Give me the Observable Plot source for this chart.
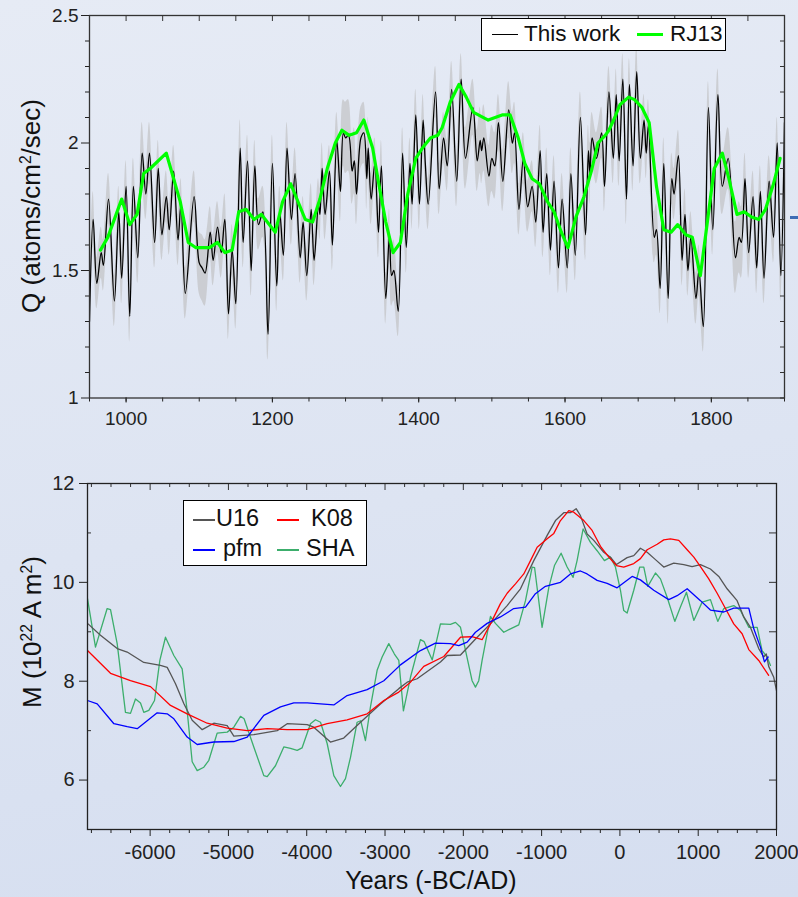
<!DOCTYPE html>
<html><head><meta charset="utf-8">
<script src="https://cdn.jsdelivr.net/npm/d3@7"></script>
<script src="https://cdn.jsdelivr.net/npm/@observablehq/plot@0.6"></script>
<style>
html,body{margin:0;padding:0;}
body{width:798px;height:897px;overflow:hidden;position:relative;
 background:linear-gradient(170deg,#e6ebf5 0%,#dde4f2 55%,#d5def0 100%);
 font-family:"Liberation Sans",Arial,sans-serif;color:#111;}
#top,#bot{position:absolute;left:0;}
#top{top:0}
#bot{top:450px}
.rot{position:absolute;transform:translate(-50%,-50%) rotate(-90deg);white-space:nowrap;font-size:26px;line-height:30px;}
.xt{position:absolute;transform:translate(-50%,-50%);white-space:nowrap;font-size:25px;line-height:30px;}
sup{font-size:0.6em;vertical-align:baseline;position:relative;top:-0.6em;}
.box{position:absolute;background:#fff;border:1px solid #000;box-sizing:border-box;}
.smp{position:absolute;}
.lt{position:absolute;white-space:nowrap;line-height:26px;}
</style></head><body>
<div id="top"></div>
<div id="bot"></div>
<script>
// ---------- Top panel: production rate Q ----------
const qYears = [
 950,955,960,966,969,976,984,990,994,1000,
 1005,1010,1016,1022,1027,1032,1039,1044,1049,1055,
 1059,1065,1071,1075,1081,1093,1100,1104,1108,1115,
 1119,1125,1130,1135,1140,1145,1150,1156,1160,1166,
 1171,1176,1181,1187,1194,1200,1206,1210,1215,1220,
 1226,1231,1238,1242,1247,1253,1257,1263,1265,1268,
 1272,1278,1282,1288,1293,1297,1300,1304,1309,1312,
 1315,1321,1325,1329,1331,1335,1340,1345,1349,1355,
 1360,1363,1366,1372,1378,1383,1388,1391,1396,1401,
 1406,1409,1413,1423,1428,1434,1439,1445,1452,1458,
 1464,1474,1480,1484,1486,1489,1496,1500,1504,1509,
 1515,1523,1528,1531,1537,1543,1549,1555,1560,1566,
 1570,1575,1580,1585,1591,1596,1603,1608,1614,1621,
 1628,1632,1634,1637,1643,1650,1654,1660,1666,1670,
 1674,1679,1684,1688,1693,1698,1703,1708,1711,1714,
 1722,1725,1730,1735,1741,1746,1749,1755,1760,1764,
 1768,1772,1779,1783,1789,1796,1802,1809,1815,1823,
 1833,1838,1841,1846,1851,1857,1862,1867,1872,1879,
 1885,1890,1895,1900];
const qValues = [
 1.30,1.70,1.45,1.57,1.52,1.78,1.38,1.73,1.47,1.83,
 1.32,1.83,1.55,1.96,1.80,1.96,1.61,1.90,1.64,1.79,
 1.66,1.89,1.62,1.76,1.41,1.79,1.53,1.51,1.49,1.65,
 1.54,1.67,1.57,1.70,1.33,1.58,1.37,1.98,1.61,1.93,
 1.50,1.91,1.68,1.73,1.25,1.92,1.44,1.73,1.56,1.98,
 1.70,1.88,1.55,1.69,1.48,1.74,1.54,1.76,1.72,1.90,
 1.72,1.89,1.60,2.01,1.81,2.04,2.02,2.03,1.89,1.93,
 1.80,2.02,2.04,1.86,1.98,1.78,1.92,1.65,1.91,1.39,
 1.64,1.48,1.50,1.34,1.96,1.59,1.92,1.76,2.11,1.76,
 2.09,1.92,1.76,2.20,1.82,2.02,1.91,2.21,1.85,2.25,
 1.94,2.14,1.93,2.01,1.97,2.02,1.87,1.94,1.91,2.08,
 1.85,2.13,2.00,2.04,1.74,1.94,1.75,1.83,1.69,1.97,
 1.65,1.88,1.58,1.85,1.51,1.78,1.51,1.88,1.56,2.10,
 1.64,1.97,1.88,2.02,1.94,2.04,1.83,2.20,1.94,2.19,
 1.93,2.25,1.78,2.23,1.91,2.28,1.94,2.09,1.96,2.07,
 1.63,1.66,1.43,1.92,1.39,1.86,1.80,1.95,1.54,1.72,
 1.50,1.63,1.39,1.50,1.28,2.14,1.66,2.19,1.83,1.94,
 1.55,1.63,1.61,1.86,1.57,1.79,1.51,1.81,1.47,1.85,
 1.63,2.00,1.48,2.08];
const qErr = [
 .12,.11,.10,.10,.10,.10,.10,.10,.10,.10,
 .10,.11,.10,.12,.10,.12,.10,.11,.10,.10,
 .10,.10,.10,.10,.10,.10,.12,.13,.13,.10,
 .10,.10,.10,.10,.10,.10,.10,.11,.10,.10,
 .10,.10,.10,.10,.10,.11,.10,.10,.10,.10,
 .10,.10,.10,.10,.10,.10,.10,.10,.10,.10,
 .10,.10,.10,.11,.12,.13,.14,.14,.13,.13,
 .12,.12,.12,.12,.12,.10,.10,.10,.10,.10,
 .10,.12,.12,.10,.10,.10,.10,.10,.10,.10,
 .10,.10,.10,.10,.10,.10,.10,.11,.10,.10,
 .12,.11,.12,.13,.13,.13,.12,.13,.13,.11,
 .12,.11,.12,.12,.10,.10,.10,.10,.10,.10,
 .10,.10,.10,.10,.10,.10,.10,.10,.10,.10,
 .10,.10,.12,.10,.10,.10,.10,.10,.10,.10,
 .10,.10,.10,.10,.10,.10,.10,.10,.10,.10,
 .10,.10,.10,.10,.10,.10,.10,.10,.10,.10,
 .10,.10,.10,.10,.10,.10,.10,.10,.11,.12,
 .14,.14,.14,.10,.10,.10,.10,.10,.10,.10,
 .10,.10,.10,.10];
const rjYears = [965,975,994,1005,1015,1024,1033,1055,1074,1085,1095,1114,1125,1135,1145,1154,1164,1175,1185,1204,
 1214,1225,1245,1255,1265,1275,1286,1295,1305,1315,1325,1337,1346,1355,1365,1375,1385,1396,1405,1416,
 1426,1432,1443,1455,1465,1475,1495,1514,1525,1536,1545,1555,1565,1576,1585,1595,1604,1615,1626,1636,
 1645,1655,1660,1668,1675,1687,1695,1705,1715,1725,1735,1745,1754,1765,1774,1785,1795,1804,1815,1824,
 1835,1845,1855,1865,1874,1884,1894];
const rjValues = [1.58,1.63,1.78,1.68,1.72,1.88,1.90,1.96,1.77,1.61,1.59,1.59,1.61,1.57,1.58,1.73,1.74,1.70,1.72,1.65,
 1.77,1.84,1.70,1.69,1.78,1.90,2.00,2.05,2.03,2.04,2.09,1.98,1.83,1.69,1.57,1.61,1.80,1.94,1.98,2.02,
 2.03,2.06,2.16,2.23,2.18,2.12,2.09,2.11,2.11,2.02,1.92,1.86,1.84,1.77,1.73,1.65,1.59,1.71,1.79,1.89,
 2.00,2.03,2.05,2.10,2.15,2.18,2.17,2.14,2.08,1.83,1.66,1.65,1.68,1.64,1.63,1.48,1.70,1.90,1.96,1.86,
 1.72,1.73,1.71,1.70,1.74,1.83,1.94];
const qXLabels = [1000,1200,1400,1600,1800];
const qXMinor = [950,1000,1050,1100,1150,1200,1250,1300,1350,1400,1450,1500,1550,1600,1650,1700,1750,1800,1850,1900];
const qYLabels = [1,1.5,2,2.5];
const qYMinor = [1.1,1.2,1.3,1.4,1.6,1.7,1.8,1.9,2.1,2.2,2.3,2.4];
const qYAll = [1,1.1,1.2,1.3,1.4,1.5,1.6,1.7,1.8,1.9,2,2.1,2.2,2.3,2.4,2.5];

// ---------- Bottom panel: dipole moment M ----------
const u16Years = [-6800,-6634,-6421,-6293,-6081,-5868,-5782,-5740,-5676,-5570,-5463,-5335,-5187,-5016,-4931,-4676,-4377,-4250,-3994,-3910,
 -3697,-3527,-3313,-3058,-2824,-2717,-2590,-2292,-2206,-2036,-1823,-1611,-1440,-1270,-1100,-929,-823,-717,-632,-559,
 -504,-419,-334,-206,-121,-44,92,177,262,348,454,560,688,816,922,1029,1156,1263,1369,1497,
 1582,1667,1773,1837,1870,1900,1965,2000];
const u16Values = [9.17,8.93,8.66,8.59,8.38,8.32,8.28,8.15,7.95,7.55,7.21,7.02,7.15,7.10,6.89,6.92,7.00,7.14,7.12,7.07,
 6.77,6.85,7.17,7.54,7.85,7.98,8.05,8.39,8.52,8.53,8.89,9.23,9.53,9.87,10.44,10.95,11.25,11.41,11.41,11.49,
 11.35,10.98,10.85,10.61,10.51,10.36,10.50,10.54,10.69,10.61,10.46,10.31,10.39,10.36,10.32,10.36,10.27,10.12,9.87,9.63,
 9.30,9.09,8.66,8.49,8.55,8.30,8.08,7.81];
const k08Years = [-6800,-6506,-6251,-5995,-5740,-5527,-5271,-5016,-4760,-4505,-4250,-3994,-3739,-3484,-3228,-3015,-2824,-2675,-2505,-2249,
 -2036,-1888,-1760,-1653,-1526,-1440,-1334,-1228,-1142,-1057,-929,-844,-759,-653,-589,-461,-355,-248,-142,-44,
 49,177,262,348,476,560,646,752,859,944,1029,1135,1242,1348,1454,1561,1646,1773,1900];
const k08Values = [8.62,8.16,8.01,7.89,7.51,7.34,7.15,7.05,7.00,7.04,7.02,7.02,7.14,7.22,7.34,7.61,7.78,7.98,8.30,8.50,
 8.89,8.90,8.84,9.16,9.57,9.78,9.97,10.17,10.44,10.71,10.88,10.99,11.25,11.45,11.42,11.25,11.05,10.73,10.51,10.34,
 10.31,10.38,10.48,10.66,10.77,10.86,10.88,10.85,10.66,10.51,10.32,10.07,9.78,9.47,9.16,8.96,8.64,8.42,8.12];
const pfmYears = [-6800,-6676,-6463,-6293,-6165,-5910,-5782,-5697,-5527,-5399,-5187,-4931,-4760,-4548,-4335,-4165,-3994,-3824,-3654,-3484,
 -3228,-3015,-2803,-2548,-2356,-2164,-2058,-1951,-1845,-1696,-1526,-1356,-1206,-1079,-951,-759,-632,-504,-419,-291,
 -163,-36,156,262,432,624,731,859,1029,1156,1327,1454,1646,1710,1795,1846,1893];
const pfmValues = [7.61,7.54,7.14,7.08,7.04,7.36,7.34,7.24,6.87,6.72,6.77,6.78,6.87,7.31,7.48,7.56,7.56,7.54,7.52,7.71,
 7.83,8.01,8.33,8.62,8.77,8.76,8.72,8.79,8.99,9.17,9.30,9.47,9.50,9.77,9.92,10.00,10.17,10.23,10.17,10.04,
 9.98,9.89,10.12,10.05,9.84,9.65,9.73,9.87,9.63,9.44,9.40,9.48,9.48,9.06,8.69,8.39,8.49];
const shaYears = [-6800,-6698,-6549,-6506,-6421,-6315,-6251,-6187,-6123,-6081,-6017,-5944,-5876,-5804,-5697,-5591,-5527,-5463,-5399,-5314,
 -5250,-5144,-5016,-4931,-4846,-4800,-4676,-4548,-4505,-4399,-4293,-4207,-4122,-4060,-3952,-3888,-3824,-3739,-3654,-3569,
 -3505,-3441,-3356,-3310,-3250,-3186,-3101,-3037,-2952,-2880,-2824,-2765,-2675,-2548,-2500,-2397,-2292,-2164,-2100,-2036,
 -1888,-1845,-1803,-1760,-1653,-1590,-1483,-1398,-1292,-1206,-1121,-1090,-994,-908,-836,-751,-674,-598,-547,-470,
 -376,-291,-198,-121,-57,7,49,92,177,253,305,356,454,518,603,701,773,850,944,1050,
 1156,1250,1327,1454,1540,1646,1753,1816,1880,1923];
const shaValues = [9.67,8.69,9.47,9.45,8.76,7.37,7.35,7.64,7.56,7.37,7.41,7.61,8.42,8.89,8.52,8.25,7.40,6.37,6.19,6.26,
 6.40,6.95,6.97,7.07,7.29,7.24,6.67,6.09,6.07,6.29,6.67,6.64,6.60,6.65,7.14,7.22,7.17,6.74,6.09,5.87,
 6.03,6.46,7.17,7.20,6.80,7.48,8.22,8.49,8.76,8.55,8.42,7.40,8.08,8.84,8.80,8.43,9.16,9.15,9.19,9.09,
 8.01,7.88,8.01,8.42,9.31,9.17,8.99,9.06,9.14,9.63,10.31,10.30,9.09,9.90,10.34,10.59,10.31,10.10,10.44,11.08,
 10.81,10.64,10.44,10.51,10.31,9.84,9.43,9.38,9.84,10.31,10.31,9.92,10.19,10.07,9.70,9.21,9.50,9.80,9.23,9.60,
 9.65,9.21,9.47,9.53,9.43,9.09,9.09,8.62,8.49,8.32];
const mXLabels = [-6000,-5000,-4000,-3000,-2000,-1000,0,1000,2000];
const mXMinor = [-6750,-6500,-6250,-5750,-5500,-5250,-4750,-4500,-4250,-3750,-3500,-3250,-2750,-2500,-2250,-1750,-1500,-1250,-750,-500,-250,250,500,750,1250,1500,1750];
const mYLabels = [6,8,10,12];
const mYMinor = [5,7,9,11];
const mYAll = [5,6,7,8,9,10,11,12];

const rows = (xs, ys, es) => xs.map((x, i) => ({x, y: ys[i], lo: es ? ys[i] - es[i] : null, hi: es ? ys[i] + es[i] : null}));
const qRows = rows(qYears, qValues, qErr);
const rjRows = rows(rjYears, rjValues);

const FONT = '"Liberation Sans", Arial, sans-serif';

// Top plot geometry
const T = {w: 798, h: 440, ml: 89, mr: 14, mt: 15, mb: 42.5};
const TfW = T.w - T.ml - T.mr, TfH = T.h - T.mt - T.mb;
const topPlot = Plot.plot({
  width: T.w, height: T.h, marginLeft: T.ml, marginRight: T.mr, marginTop: T.mt, marginBottom: T.mb,
  x: {domain: [950, 1900], label: null},
  y: {domain: [1, 2.5], label: null},
  style: {background: "transparent", fontFamily: FONT, fontSize: "19px", color: "#222", overflow: "visible"},
  marks: [
    Plot.areaY(qRows, {x: "x", y1: "lo", y2: "hi", fill: "#bcbcbc", fillOpacity: 0.6, curve: "catmull-rom", clip: true}),
    Plot.lineY(qRows, {x: "x", y: "y", stroke: "#000", strokeWidth: 1.3, curve: "catmull-rom", clip: true}),
    Plot.lineY(rjRows, {x: "x", y: "y", stroke: "#00ff00", strokeWidth: 3.2, clip: true}),
    Plot.ruleX(qXMinor, {x: d => d, insetBottom: TfH - 6, stroke: "#333"}),
    Plot.ruleY(qYAll, {y: d => d, insetLeft: TfW - 4, stroke: "#333"}),
    Plot.axisY({ticks: qYLabels, tickSize: 8, tickPadding: 3, tickFormat: d => String(d), label: null}),
    Plot.axisY({ticks: qYMinor, tickSize: 4, tickFormat: () => "", label: null}),
    Plot.axisX({ticks: qXLabels, tickSize: 5, tickPadding: 8, tickFormat: d => String(d), label: null}),
    Plot.axisX({ticks: qXMinor, tickSize: 4, tickFormat: () => "", label: null}),
    Plot.frame({stroke: "#333", strokeWidth: 1.3})
  ]
});
document.getElementById("top").appendChild(topPlot);

// Bottom plot geometry
const B = {w: 798, h: 447, ml: 87, mr: 22, mt: 33, mb: 68};
const BfW = B.w - B.ml - B.mr, BfH = B.h - B.mt - B.mb;
const series = [
  {xs: u16Years, ys: u16Values, color: "#555555"},
  {xs: k08Years, ys: k08Values, color: "#ff0000"},
  {xs: pfmYears, ys: pfmValues, color: "#0000ff"},
  {xs: shaYears, ys: shaValues, color: "#3cae6c"}
];
const botPlot = Plot.plot({
  width: B.w, height: B.h, marginLeft: B.ml, marginRight: B.mr, marginTop: B.mt, marginBottom: B.mb,
  x: {domain: [-6800, 2000], label: null},
  y: {domain: [5, 12], label: null},
  style: {background: "transparent", fontFamily: FONT, fontSize: "20px", color: "#222", overflow: "visible"},
  marks: [
    ...[3, 0, 1, 2].map(i => Plot.lineY(rows(series[i].xs, series[i].ys), {x: "x", y: "y", stroke: series[i].color, strokeWidth: 1.3, clip: true})),
    Plot.ruleX(mXLabels, {x: d => d, insetBottom: BfH - 7, stroke: "#333"}),
    Plot.ruleX(mXMinor, {x: d => d, insetBottom: BfH - 4, stroke: "#333"}),
    Plot.ruleY(mYAll, {y: d => d, insetLeft: BfW - 7, stroke: "#333"}),
    Plot.ruleY(mYMinor, {y: d => d, insetRight: BfW - 4, stroke: "#333"}),
    Plot.axisY({ticks: mYLabels, tickSize: 8, tickPadding: 5, tickFormat: d => String(d), label: null}),
    Plot.axisX({ticks: mXLabels, tickSize: 7, tickPadding: 8, tickFormat: d => String(d), label: null}),
    Plot.axisX({ticks: mXMinor, tickSize: 4, tickFormat: () => "", label: null}),
    Plot.frame({stroke: "#222", strokeWidth: 1.3})
  ]
});
document.getElementById("bot").appendChild(botPlot);

// Titles and legends (HTML)
function el(tag, cls, style, html) {
  const e = document.createElement(tag);
  if (cls) e.className = cls;
  Object.assign(e.style, style || {});
  if (html != null) e.innerHTML = html;
  document.body.appendChild(e);
  return e;
}
el("div", "rot", {left: "33px", top: "206px"}, "Q (atoms/cm<sup>2</sup>/sec)");
el("div", "rot", {left: "34px", top: "632px"}, "M (10<sup>22</sup> A m<sup>2</sup>)");
el("div", "xt", {left: "431px", top: "880px"}, "Years (-BC/AD)");

// top legend
el("div", "box", {left: "481px", top: "18px", width: "245px", height: "33px"});
el("div", "smp", {left: "492px", top: "34px", width: "26px", height: "1.3px", background: "#000"});
el("div", "lt", {left: "524px", top: "21px", fontSize: "22.5px"}, "This work");
el("div", "smp", {left: "637px", top: "33px", width: "26px", height: "3px", background: "#00ff00"});
el("div", "lt", {left: "670px", top: "21px", fontSize: "22.5px"}, "RJ13");

// bottom legend
el("div", "box", {left: "183px", top: "500px", width: "184px", height: "66px"});
const legItems = [
  {name: "U16", color: "#555555", sx: 193, tx: 216, cy: 519},
  {name: "K08", color: "#ff0000", sx: 277, tx: 311, cy: 519},
  {name: "pfm", color: "#0000ff", sx: 193, tx: 223, cy: 549},
  {name: "SHA", color: "#3cae6c", sx: 277, tx: 306, cy: 549}
];
legItems.forEach(it => {
  el("div", "smp", {left: it.sx + "px", top: it.cy + "px", width: "22px", height: "1.5px", background: it.color});
  el("div", "lt", {left: it.tx + "px", top: (it.cy - 14) + "px", fontSize: "23.5px"}, it.name);
});

// small blue mark at right edge of the top panel
el("div", null, {position: "absolute", left: "790px", top: "216px", width: "8px", height: "2.5px", background: "#3d6cb5"});
</script>
</body></html>
